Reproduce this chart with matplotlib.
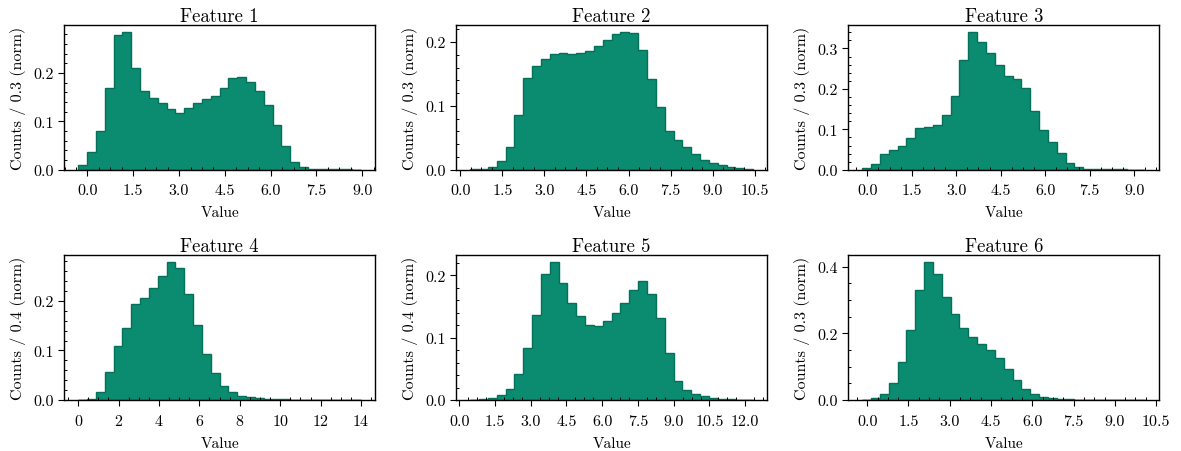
import numpy as np
import matplotlib.pyplot as plt
from matplotlib.ticker import AutoMinorLocator

plt.rcParams['font.family'] = 'serif'
plt.rcParams['font.serif'] = ['cmr10']
plt.rcParams['mathtext.fontset'] = 'cm'
plt.rcParams['axes.formatter.use_mathtext'] = True
plt.rcParams['axes.unicode_minus'] = False

# Normalised histogram heights per feature (32 bins each)
feat1 = [0.009, 0.036, 0.081, 0.170, 0.279, 0.285, 0.211, 0.163, 0.148, 0.139,
         0.125, 0.118, 0.128, 0.139, 0.146, 0.153, 0.170, 0.190, 0.192, 0.181,
         0.162, 0.134, 0.093, 0.050, 0.017, 0.005, 0.002, 0.001, 0.001, 0.001,
         0.0007, 0.0005]
feat2 = [0.001, 0.002, 0.004, 0.014, 0.035, 0.086, 0.144, 0.163, 0.173, 0.182,
         0.183, 0.181, 0.183, 0.186, 0.194, 0.204, 0.2125, 0.216, 0.2135, 0.1875,
         0.142, 0.098, 0.061, 0.046, 0.036, 0.025, 0.016, 0.011, 0.007, 0.005,
         0.003, 0.0015]
feat3 = [0.004, 0.015, 0.038, 0.048, 0.058, 0.079, 0.1035, 0.106, 0.110, 0.135,
         0.182, 0.272, 0.341, 0.317, 0.289, 0.259, 0.233, 0.224, 0.202, 0.146,
         0.098, 0.068, 0.041, 0.016, 0.006, 0.003, 0.002, 0.0015, 0.001, 0.001,
         0.0007, 0.0005]
feat4 = [0.0007, 0.003, 0.017, 0.057, 0.109, 0.146, 0.193, 0.206, 0.226, 0.251,
         0.2785, 0.267, 0.215, 0.151, 0.093, 0.054, 0.028, 0.0155, 0.0087, 0.0054,
         0.004, 0.0027, 0.002, 0.0015, 0.001, 0.0008, 0.0006, 0.0005, 0.0004, 0.0003,
         0.0002, 0.0002]
feat5 = [0.0005, 0.0015, 0.004, 0.0075, 0.0175, 0.041, 0.083, 0.137, 0.202, 0.221,
         0.187, 0.155, 0.135, 0.120, 0.118, 0.127, 0.139, 0.155, 0.176, 0.1915,
         0.170, 0.131, 0.076, 0.031, 0.0165, 0.010, 0.0058, 0.003, 0.002, 0.0012,
         0.0008, 0.0005]
feat6 = [0.001, 0.005, 0.017, 0.051, 0.115, 0.2115, 0.329, 0.414, 0.377, 0.309,
         0.258, 0.2165, 0.1895, 0.1695, 0.1515, 0.125, 0.092, 0.060, 0.034, 0.019,
         0.009, 0.005, 0.003, 0.002, 0.0015, 0.001, 0.0008, 0.0006, 0.0005, 0.0004,
         0.0003, 0.0002]

heights = [feat1, feat2, feat3, feat4, feat5, feat6]
x_min = [-0.305, 0.356, -0.17, 0.0, 0.46, -0.18]
x_max = [8.96, 10.44, 9.37, 14.0, 12.33, 10.1]
bin_labels = ['0.3', '0.3', '0.3', '0.4', '0.4', '0.3']
x_steps = [1.5, 1.5, 1.5, 2, 1.5, 1.5]

fill_color = '#0b8b6f'
edge_color = '#04705a'

fig, axes = plt.subplots(2, 3, figsize=(11.81, 4.52), dpi=100)
fig.subplots_adjust(left=0.0542, right=0.9816, top=0.9425, bottom=0.1128,
                    wspace=0.26, hspace=0.59)

for i, ax in enumerate(axes.flat):
    h = np.array(heights[i])
    edges = np.linspace(x_min[i], x_max[i], len(h) + 1)
    ax.hist(edges[:-1], bins=edges, weights=h, histtype='stepfilled',
            facecolor=fill_color, edgecolor=edge_color, linewidth=1.0)
    ax.set_title(f'Feature {i + 1}', fontsize=13.5, pad=3)
    ax.set_xlabel('Value', fontsize=11, labelpad=6)
    ax.set_ylabel(f'Counts / {bin_labels[i]} (norm)', fontsize=11.5, labelpad=5)
    ax.xaxis.set_major_locator(plt.MultipleLocator(x_steps[i]))
    ax.xaxis.set_minor_locator(AutoMinorLocator())
    ax.yaxis.set_minor_locator(AutoMinorLocator())
    ax.tick_params(which='major', direction='out', length=4, width=0.8, labelsize=11.5)
    ax.tick_params(axis='x', which='major', pad=6)
    ax.tick_params(which='minor', direction='in', length=2.5, width=0.7)
    for s in ax.spines.values():
        s.set_linewidth(1.0)
    if x_steps[i] == 2:
        ax.xaxis.set_major_formatter(plt.FormatStrFormatter('%d'))
    else:
        ax.xaxis.set_major_formatter(plt.FormatStrFormatter('%.1f'))
    ax.yaxis.set_major_formatter(plt.FormatStrFormatter('%.1f'))

plt.savefig('out.png', dpi=100)
